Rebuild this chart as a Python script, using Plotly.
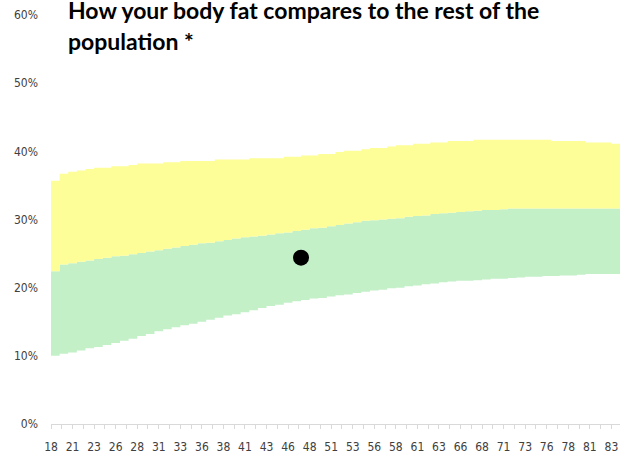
import plotly.graph_objects as go

# Ages (years) – one value per year, drawn as steps
ages = list(range(18, 85))

# Lower edge of the healthy (green) band, % body fat
low_pct = [10.0, 10.3, 10.5, 10.8, 11.1, 11.3, 11.6, 11.9, 12.2, 12.5,
           12.9, 13.2, 13.6, 13.9, 14.2, 14.5, 14.7, 15.0, 15.3, 15.6,
           15.9, 16.1, 16.4, 16.7, 17.0, 17.3, 17.5, 17.8, 18.0, 18.2,
           18.4, 18.5, 18.7, 18.9, 19.0, 19.2, 19.4, 19.6, 19.7, 19.9,
           20.0, 20.2, 20.3, 20.5, 20.6, 20.8, 20.9, 21.0, 21.0, 21.1,
           21.2, 21.3, 21.3, 21.4, 21.5, 21.6, 21.6, 21.7, 21.7, 21.8,
           21.8, 21.9, 22.0, 22.0, 22.0, 22.0, 22.0]

# Upper edge of green band / lower edge of yellow band
mid_pct = [22.4, 23.4, 23.6, 23.8, 24.0, 24.2, 24.4, 24.6, 24.7, 24.9,
           25.1, 25.3, 25.5, 25.7, 25.9, 26.1, 26.3, 26.5, 26.6, 26.8,
           27.0, 27.2, 27.4, 27.5, 27.6, 27.8, 28.0, 28.1, 28.3, 28.5,
           28.7, 28.8, 29.0, 29.2, 29.4, 29.6, 29.8, 29.9, 30.0, 30.1,
           30.2, 30.4, 30.5, 30.6, 30.8, 30.9, 31.0, 31.1, 31.2, 31.3,
           31.4, 31.4, 31.5, 31.6, 31.6, 31.6, 31.6, 31.6, 31.6, 31.6,
           31.6, 31.6, 31.6, 31.6, 31.6, 31.6, 31.6]

# Upper edge of yellow band
high_pct = [35.7, 36.7, 37.0, 37.2, 37.4, 37.6, 37.6, 37.8, 37.8, 38.0,
            38.2, 38.2, 38.2, 38.4, 38.4, 38.6, 38.6, 38.6, 38.6, 38.8,
            38.8, 38.8, 38.8, 39.0, 39.0, 39.0, 39.0, 39.2, 39.2, 39.4,
            39.4, 39.6, 39.6, 39.9, 40.1, 40.1, 40.3, 40.5, 40.5, 40.7,
            40.9, 40.9, 41.1, 41.1, 41.3, 41.3, 41.5, 41.5, 41.5, 41.7,
            41.7, 41.7, 41.7, 41.7, 41.7, 41.7, 41.7, 41.7, 41.5, 41.5,
            41.5, 41.5, 41.3, 41.3, 41.3, 41.1, 41.1]

# The user's own reading
user_age = [47.0]
user_pct = [24.4]

# X tick positions (every 2.5 years) and their displayed labels
tick_pos = [18 + 2.5 * i for i in range(27)]
tick_labels = ["18", "21", "23", "26", "28", "31", "33", "36", "38", "41",
               "43", "46", "48", "51", "53", "56", "58", "61", "63", "66",
               "68", "71", "73", "76", "78", "81", "83"]

y_ticks = [0, 10, 20, 30, 40, 50, 60]
y_labels = ["0%", "10%", "20%", "30%", "40%", "50%", "60%"]

title_lines = ["How your body fat compares to the rest of the", "population *"]

GREEN = "#C4F0C8"
YELLOW = "#FEFE98"
AXFONT = dict(family="Liberation Sans Narrow, Arial Narrow, DejaVu Sans Condensed, sans-serif",
              size=12, color="#404040")
TFONT = dict(family="Lato, Carlito, sans-serif", size=23, color="black", weight="bold")

fig = go.Figure()
fig.add_trace(go.Scatter(x=ages, y=low_pct, mode="lines", line=dict(width=0, shape="hv"),
                         hoverinfo="skip", showlegend=False))
fig.add_trace(go.Scatter(x=ages, y=mid_pct, mode="lines", line=dict(width=0, shape="hv"),
                         fill="tonexty", fillcolor=GREEN, hoverinfo="skip", showlegend=False))
fig.add_trace(go.Scatter(x=ages, y=high_pct, mode="lines", line=dict(width=0, shape="hv"),
                         fill="tonexty", fillcolor=YELLOW, hoverinfo="skip", showlegend=False))
fig.add_trace(go.Scatter(x=user_age, y=user_pct, mode="markers",
                         marker=dict(color="black", size=16), showlegend=False))

for line, ypos in zip(title_lines, [1.0514, 0.9745]):
    fig.add_annotation(text=line, xref="paper", yref="paper", x=0.026, y=ypos,
                       xanchor="left", yanchor="top", align="left", showarrow=False,
                       font=TFONT)

fig.update_layout(
    width=620, height=453,
    margin=dict(l=51, r=0, t=15, b=29, autoexpand=False),
    paper_bgcolor="white", plot_bgcolor="white",
    hovermode=False,
    xaxis=dict(range=[18, 84], tickmode="array", tickvals=tick_pos, ticktext=tick_labels,
               automargin=False, ticklabeloverflow="allow", ticklabelstandoff=8,
               showgrid=False, zeroline=False, showline=True, linecolor="#D9D9D9", linewidth=1,
               ticks="outside", ticklen=4, tickcolor="#D9D9D9", tickfont=AXFONT,
               minor=dict(tickmode="linear", tick0=18, dtick=1.25, ticks="outside",
                          ticklen=4, tickcolor="#D9D9D9", showgrid=False)),
    yaxis=dict(range=[0, 60], tickmode="array", tickvals=y_ticks, ticktext=y_labels,
               automargin=False, ticklabeloverflow="allow",
               showgrid=False, zeroline=False, showline=False, ticks="",
               tickfont=AXFONT, ticklabelstandoff=12),
)

fig.write_html("out.html", config={"displayModeBar": False},
               post_script="document.body.style.margin='0px';")
